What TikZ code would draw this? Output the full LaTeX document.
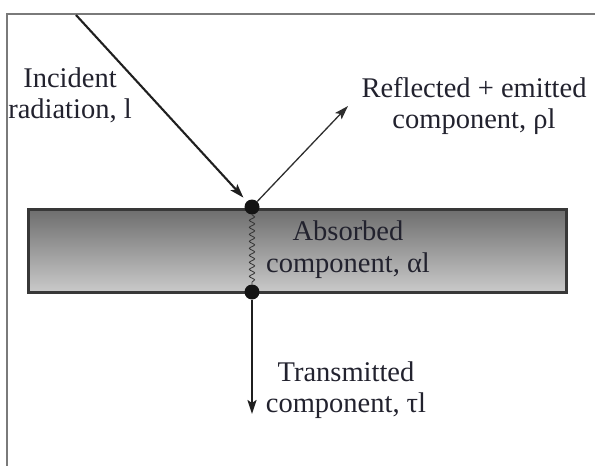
\documentclass[tikz,border=0pt]{standalone}
\usepackage{fontspec}
\setmainfont{Liberation Serif}
\usetikzlibrary{arrows.meta,decorations.pathmorphing}
\definecolor{txt}{HTML}{22222E}
\definecolor{slabtop}{HTML}{6E6E6E}
\definecolor{slabbot}{HTML}{CACACA}
\definecolor{slabedge}{HTML}{383838}
\definecolor{framecol}{HTML}{7A7A7A}
\begin{document}
\begin{tikzpicture}[x=1pt,y=-1pt,
  lbl/.style={align=center,text=txt,inner sep=0pt,font=\fontsize{28.5}{31.5}\selectfont},
  slabbox/.style={rectangle,draw=slabedge,line width=2.4pt,top color=slabtop,bottom color=slabbot,minimum width=538pt,minimum height=83pt,inner sep=0pt},
  dotnode/.style={circle,fill=black!92,minimum size=15pt,inner sep=0pt},
  ray/.style={draw=black!88,line width=2.1pt},
  thinray/.style={draw=black!82,line width=1.3pt},
  wave/.style={draw=black!80,line width=0.8pt,decorate,decoration={snake,amplitude=2.6pt,segment length=7pt}},
  tip/.style={-{Stealth[length=14pt,width=9pt,inset=3pt]}}
]
\useasboundingbox (0,0) rectangle (595,466);
% frame
\draw[framecol,line width=1.5pt] (7,466) -- (7,14) -- (595,14);
% slab
\node[slabbox] (slab) at (297.5,251) {};
% dots
\node[dotnode] (top) at (252,207) {};
\node[dotnode] (bot) at (252,292) {};
\coordinate (inc) at (76,15);
\coordinate (refl) at (348,106);
\coordinate (trans) at (252,414);
% rays
\draw[ray,tip,shorten >=5pt] (inc) -- (top);
\draw[thinray,tip] (top) -- (refl);
\draw[ray,tip] (bot) -- (trans);
\draw[wave] (top.south) -- (bot.north);
% labels
\node[lbl] (lincident) at (70,95.5) {Incident\\radiation, l};
\node[lbl] (lrefl) at (474,106) {Reflected + emitted\\component, ρl};
\node[lbl] (labs) at (348,249.5) {Absorbed\\component, αl};
\node[lbl] (ltrans) at (346,390) {Transmitted\\component, τl};
\end{tikzpicture}
\end{document}
